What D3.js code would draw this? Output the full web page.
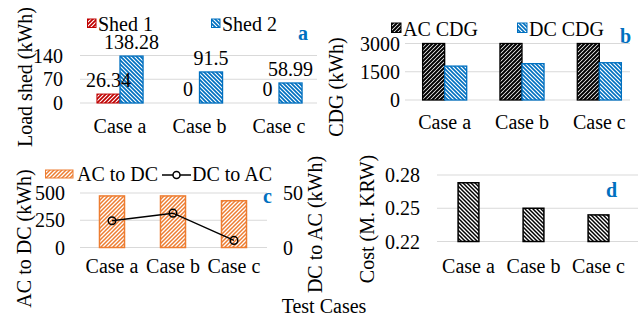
<!DOCTYPE html>
<html>
<head>
<meta charset="utf-8">
<script src="https://cdn.jsdelivr.net/npm/d3@7"></script>
<style>
  body { margin: 0; background: #fff; }
  .grid { stroke: #d9d9d9; stroke-width: 1; }
</style>
</head>
<body>
<script>
// data
var cases = ["Case a", "Case b", "Case c"];

var shed1 = [26.34, 0, 0];
var shed2 = [138.28, 91.5, 58.99];
var shedTicks = [0, 70, 140];

var acCdg = [3000, 3000, 3000];
var dcCdg = [1800, 1930, 1980];
var cdgTicks = [0, 1500, 3000];

var acToDc = [473, 473, 429];
var dcToAc = [24.5, 31.5, 6.5];
var acToDcTicks = [0, 250, 500];
var dcToAcTicks = [0, 50];

var cost = [0.273, 0.25, 0.244];
var costTicks = [0.22, 0.25, 0.28];

var red = "#c00000", blue = "#0070c0", orange = "#ed7d31", black = "#000";

var svg = d3.select("body").append("svg")
    .attr("width", 638)
    .attr("height", 320);

// hatch patterns, "up" = /, "down" = \
var defs = svg.append("defs");
function hatch(id, color, dir, sw) {
    var s = 4;
    var p = defs.append("pattern")
        .attr("id", id)
        .attr("patternUnits", "userSpaceOnUse")
        .attr("width", s).attr("height", s);
    p.append("rect").attr("width", s).attr("height", s).attr("fill", "#fff");
    var d = dir == "up"
        ? "M0," + s + " l" + s + ",-" + s + " M-1,1 l2,-2 M" + (s - 1) + "," + (s + 1) + " l2,-2"
        : "M0,0 l" + s + "," + s + " M-1," + (s - 1) + " l2,2 M" + (s - 1) + ",-1 l2,2";
    p.append("path").attr("d", d).attr("stroke", color).attr("stroke-width", sw);
}
hatch("redUp", red, "up", 1.7);
hatch("blueDown", blue, "down", 1.7);
hatch("blackUp", black, "up", 2);
hatch("blueDown2", blue, "down", 1.6);
hatch("orangeUp", orange, "up", 1.5);
hatch("blackDown", black, "down", 1.5);

// band scale whose band centres sit on thirds of the range
function bandX(range, p) {
    return d3.scaleBand().domain(cases).range(range).paddingInner(p).paddingOuter(p / 2);
}

function gridAndTicks(y, ticks, x0, x1, labelX, fmt) {
    svg.append("g").selectAll("line")
        .data(ticks)
        .enter().append("line")
        .attr("class", "grid")
        .attr("x1", x0).attr("x2", x1)
        .attr("y1", function(d){ return y(d); })
        .attr("y2", function(d){ return y(d); });
    svg.append("g").selectAll("text")
        .data(ticks)
        .enter().append("text")
        .attr("x", labelX)
        .attr("y", function(d){ return y(d); })
        .attr("dy", "0.35em")
        .attr("text-anchor", "end")
        .text(fmt || function(d){ return d; });
}

function catLabels(x, baseline) {
    svg.append("g").selectAll("text")
        .data(cases)
        .enter().append("text")
        .attr("x", function(d){ return x(d) + x.bandwidth() / 2; })
        .attr("y", baseline)
        .attr("text-anchor", "middle")
        .text(function(d){ return d; });
}

function yTitle(txt, cx, cy) {
    svg.append("text")
        .attr("transform", "translate(" + cx + "," + cy + ") rotate(-90)")
        .attr("dy", "0.35em")
        .attr("text-anchor", "middle")
        .text(txt);
}

function bars(x, sub, key, y, vals, fill, stroke, sw) {
    svg.append("g").selectAll("rect")
        .data(vals)
        .enter().append("rect")
        .attr("x", function(d, i){ return x(cases[i]) + (sub ? sub(key) : 0); })
        .attr("width", sub ? sub.bandwidth() : x.bandwidth())
        .attr("y", function(d){ return y(d); })
        .attr("height", function(d){ return y(y.domain()[0]) - y(d); })
        .attr("fill", fill)
        .attr("stroke", stroke)
        .attr("stroke-width", sw)
        .style("display", function(d){ return d > y.domain()[0] ? null : "none"; });
}

function legendBox(x, y, w, h, fill, stroke, label) {
    svg.append("rect").attr("x", x).attr("y", y).attr("width", w).attr("height", h)
        .attr("fill", fill).attr("stroke", stroke).attr("stroke-width", 1);
    svg.append("text").attr("x", x + w + 2).attr("y", y + h + 3).text(label);
}

function tag(letter, x, y) {
    svg.append("text").attr("class", "tag").attr("x", x).attr("y", y).text(letter);
}

// ---------- panel a: load shed ----------
var xa = bandX([80.25, 318.75], 0.42);
var sa = d3.scaleBand().domain(["s1", "s2"]).range([0, xa.bandwidth()]);
var ya = d3.scaleLinear().domain([0, 140]).range([103, 55.5]);
gridAndTicks(ya, shedTicks, 80, 317, 63);
bars(xa, sa, "s1", ya, shed1, "url(#redUp)", red, 1);
bars(xa, sa, "s2", ya, shed2, "url(#blueDown)", blue, 1.3);
[["s1", shed1], ["s2", shed2]].forEach(function(s){
    svg.append("g").selectAll("text")
        .data(s[1])
        .enter().append("text")
        .attr("x", function(d, i){ return xa(cases[i]) + sa(s[0]) + sa.bandwidth() / 2; })
        .attr("y", function(d){ return ya(d) - 7; })
        .attr("text-anchor", "middle")
        .text(function(d){ return d; });
});
catLabels(xa, 133);
yTitle("Load shed (kWh)", 25, 77);
legendBox(87.5, 19, 8.5, 8.5, "url(#redUp)", red, "Shed 1");
legendBox(211.5, 19, 8.5, 8.5, "url(#blueDown)", blue, "Shed 2");
tag("a", 298, 40);

// ---------- panel b: CDG ----------
var xb = bandX([406, 638], 0.43);
var sb = d3.scaleBand().domain(["ac", "dc"]).range([0, xb.bandwidth()]);
var yb = d3.scaleLinear().domain([0, 3000]).range([100, 43.5]);
gridAndTicks(yb, cdgTicks, 405, 630, 400);
bars(xb, sb, "ac", yb, acCdg, "url(#blackUp)", black, 1.3);
bars(xb, sb, "dc", yb, dcCdg, "url(#blueDown2)", blue, 1.3);
catLabels(xb, 129);
yTitle("CDG (kWh)", 336, 87);
legendBox(391.5, 23, 9.5, 9.5, "url(#blackUp)", black, "AC CDG");
legendBox(517.5, 23, 9.5, 9.5, "url(#blueDown2)", blue, "DC CDG");
tag("b", 620, 43);

// ---------- panel c: AC to DC / DC to AC ----------
var xc = bandX([81.5, 264.5], 0.59);
var yc = d3.scaleLinear().domain([0, 500]).range([247.5, 193]);
var yc2 = d3.scaleLinear().domain([0, 50]).range([247.5, 193]);
gridAndTicks(yc, acToDcTicks, 80, 267, 65);
svg.append("g").selectAll("text")
    .data(dcToAcTicks)
    .enter().append("text")
    .attr("x", 283)
    .attr("y", function(d){ return yc2(d); })
    .attr("dy", "0.35em")
    .text(function(d){ return d; });
bars(xc, null, null, yc, acToDc, "url(#orangeUp)", orange, 1.5);
var line = d3.line()
    .x(function(d, i){ return xc(cases[i]) + xc.bandwidth() / 2; })
    .y(function(d){ return yc2(d); });
svg.append("path").datum(dcToAc)
    .attr("d", line)
    .attr("fill", "none").attr("stroke", black).attr("stroke-width", 1.5);
svg.append("g").selectAll("circle")
    .data(dcToAc)
    .enter().append("circle")
    .attr("cx", function(d, i){ return xc(cases[i]) + xc.bandwidth() / 2; })
    .attr("cy", function(d){ return yc2(d); })
    .attr("r", 3.8)
    .attr("fill", "none").attr("stroke", black).attr("stroke-width", 1.5);
catLabels(xc, 273);
yTitle("AC to DC (kWh)", 24, 238.5);
yTitle("DC to AC (kWh)", 315, 224.5);
svg.append("rect").attr("x", 45.5).attr("y", 170).attr("width", 27.5).attr("height", 8)
    .attr("fill", "url(#orangeUp)").attr("stroke", orange).attr("stroke-width", 1);
svg.append("text").attr("x", 77).attr("y", 181).text("AC to DC");
svg.append("line").attr("x1", 162).attr("x2", 191).attr("y1", 175).attr("y2", 175)
    .attr("stroke", black).attr("stroke-width", 1.5);
svg.append("circle").attr("cx", 176.5).attr("cy", 175).attr("r", 3.5)
    .attr("fill", "#fff").attr("stroke", black).attr("stroke-width", 1.5);
svg.append("text").attr("x", 192).attr("y", 181).text("DC to AC");
tag("c", 263, 203);

// ---------- panel d: cost ----------
var xd = bandX([436, 631], 0.68);
var yd = d3.scaleLinear().domain([0.22, 0.28]).range([241.5, 175]);
gridAndTicks(yd, costTicks, 437, 638, 420, d3.format(".2f"));
bars(xd, null, null, yd, cost, "url(#blackDown)", black, 1.5);
catLabels(xd, 273);
yTitle("Cost (M. KRW)", 367, 219);
tag("d", 606, 197);

// shared x title
svg.append("text").attr("x", 324).attr("y", 313).attr("text-anchor", "middle").text("Test Cases");

// fonts set inline on every text
svg.selectAll("text")
    .style("font-family", "'Liberation Serif'")
    .style("font-size", "20px")
    .style("fill", "#000");
svg.selectAll("text.tag")
    .style("font-weight", "bold")
    .style("fill", blue);
</script>
</body>
</html>
